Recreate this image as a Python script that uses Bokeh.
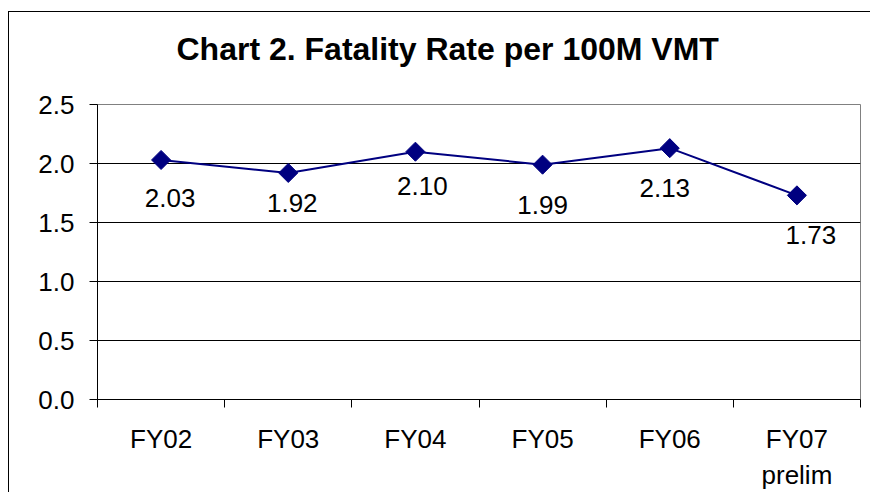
from bokeh.plotting import figure
from bokeh.models import ColumnDataSource, FixedTicker, Range1d
from bokeh.core.properties import value
from bokeh.embed import file_html
from bokeh.resources import INLINE
import math

# ---- data ----
categories = ["FY02", "FY03", "FY04", "FY05", "FY06", "FY07\nprelim"]
rates = [2.03, 1.92, 2.10, 1.99, 2.13, 1.73]
rate_labels = ["2.03", "1.92", "2.10", "1.99", "2.13", "1.73"]
y_ticks = [0.0, 0.5, 1.0, 1.5, 2.0, 2.5]
title_text = "Chart 2. Fatality Rate per 100M VMT"

# ---- styling: pixel nudges of the data labels ----
label_dx = [9, 4, 7, 0, -5, 14]
label_dy = [38, 30, 34, 40, 40, 40]

FONT = "Liberation Sans"
NAVY = "#000080"

xs = list(range(len(categories)))

p = figure(
    width=862, height=481,
    output_backend="svg", toolbar_location=None,
    x_range=Range1d(-0.5, len(categories) - 0.5),
    y_range=Range1d(y_ticks[0], y_ticks[-1]),
    min_border_left=88, min_border_right=11,
    min_border_top=92, min_border_bottom=94,
)
# outer chart border (only its top and left edges lie inside the picture)
p.styles = {
    "margin-left": "8px",
    "margin-top": "11px",
    "border-top": "1px solid black",
    "border-left": "1px solid black",
}
p.background_fill_color = "white"
p.border_fill_color = "white"
p.outline_line_color = "#808080"
p.outline_line_width = 1

# title (a blank second line keeps a gap above the plot area)
p.title.text = title_text + "\n "
p.title.text_font = FONT
p.title.text_font_size = "32px"
p.title.text_font_style = "bold"
p.title.text_color = "black"
p.title.align = "left"
p.title.offset = 79
p.title.standoff = 4
p.title.vertical_align = "bottom"

# grid
p.xgrid.visible = False
p.ygrid.ticker = FixedTicker(ticks=y_ticks[1:-1])
p.ygrid.grid_line_color = "black"
p.ygrid.grid_line_width = 1

# axes
for ax in (p.xaxis[0], p.yaxis[0]):
    ax.axis_line_color = "black"
    ax.axis_line_width = 1
    ax.major_label_text_font = FONT
    ax.major_label_text_font_size = "26px"
    ax.major_label_text_color = "black"
    ax.major_tick_line_color = "black"
    ax.minor_tick_line_color = "black"

p.xaxis.ticker = FixedTicker(ticks=xs, minor_ticks=[i - 0.5 for i in range(len(categories) + 1)])
p.xaxis.major_label_overrides = {float(i): c for i, c in enumerate(categories)}
p.xaxis.major_tick_out = 0
p.xaxis.major_tick_in = 0
p.xaxis.minor_tick_out = 8
p.xaxis.minor_tick_in = 0
p.xaxis.major_label_standoff = 16

p.yaxis.ticker = FixedTicker(ticks=y_ticks)
p.yaxis.major_label_overrides = {t: f"{t:.1f}" for t in y_ticks}
p.yaxis.major_tick_out = 8
p.yaxis.major_tick_in = 0
p.yaxis.minor_tick_out = 0
p.yaxis.minor_tick_in = 0
p.yaxis.major_label_standoff = 15

src = ColumnDataSource(dict(x=xs, y=rates, label=rate_labels, dx=label_dx, dy=label_dy))

p.line("x", "y", source=src, line_color=NAVY, line_width=2)
p.scatter("x", "y", source=src, marker="square", angle=math.pi / 4, size=13.5,
          fill_color=NAVY, line_color=NAVY, line_width=1)
p.text("x", "y", text="label", source=src, text_font=value(FONT), text_font_size="26px",
       text_align="center", text_baseline="middle", text_color="black",
       x_offset="dx", y_offset="dy")

open("out.html", "w").write(file_html(p, INLINE))
